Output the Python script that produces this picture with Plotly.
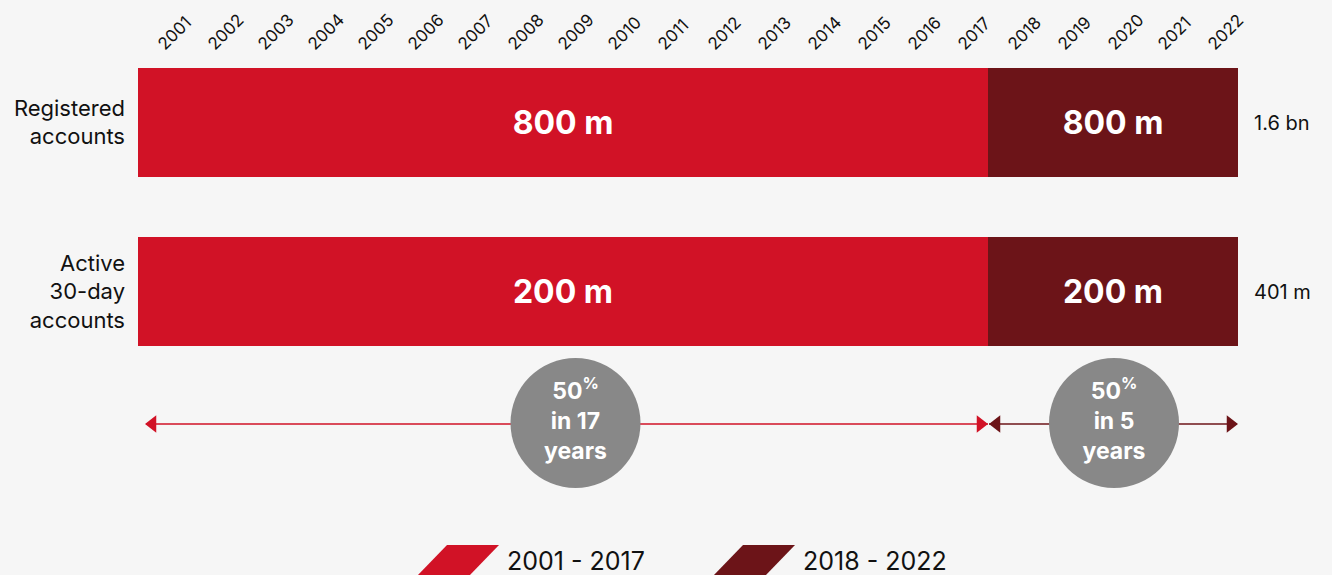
import plotly.graph_objects as go

# data
categories = ["Registered<br>accounts", "Active<br>30-day<br>accounts"]
years = list(range(2001, 2023))
period1 = (2001, 2017)
period2 = (2018, 2022)
first_period_m = [800, 200]      # millions added 2001-2017
second_period_m = [800, 200]     # millions added 2018-2022
totals = ["1.6 bn", "401 m"]
share_labels = ["50<sup>%</sup><br>in 17<br>years", "50<sup>%</sup><br>in 5<br>years"]

RED = "#d11226"
DARK = "#6c1418"
GREY = "#888888"
BG = "#f6f6f6"
FONT = "Inter"

L, R, T, B = 138, 94, 60, 0
W, H = 1332, 575


# pixel -> data / paper helpers for the layout decorations
def px_x(p):
    return 2000.5 + (p - L) / 50


def px_y(p):
    return (p - 122.5) / 169


def paper_x(p):
    return (p - L) / (W - L - R)


rows = list(range(len(categories)))
len1 = period1[1] - period1[0] + 1
len2 = period2[1] - period2[0] + 1

fig = go.Figure()

fig.add_trace(go.Bar(
    y=rows, x=[len1] * len(rows), base=period1[0] - 0.5, orientation="h",
    width=0.645, marker=dict(color=RED, line=dict(width=0)),
    text=[f"{v} m" for v in first_period_m], textposition="inside",
    insidetextanchor="middle",
    textfont=dict(family=FONT, size=32, color="white", weight="bold"),
    hoverinfo="skip", showlegend=False,
))
fig.add_trace(go.Bar(
    y=rows, x=[len2] * len(rows), base=period2[0] - 0.5, orientation="h",
    width=0.645, marker=dict(color=DARK, line=dict(width=0)),
    text=[f"{v} m" for v in second_period_m], textposition="inside",
    insidetextanchor="middle",
    textfont=dict(family=FONT, size=32, color="white", weight="bold"),
    hoverinfo="skip", showlegend=False,
))

# timeline arrows
arrow_y = px_y(424)
fig.add_trace(go.Scatter(
    x=[px_x(146), px_x(988)], y=[arrow_y, arrow_y], mode="lines",
    line=dict(color=RED, width=1.6), hoverinfo="skip", showlegend=False,
))
fig.add_trace(go.Scatter(
    x=[px_x(989), px_x(1237)], y=[arrow_y, arrow_y], mode="lines",
    line=dict(color=DARK, width=1.6), hoverinfo="skip", showlegend=False,
))
fig.add_trace(go.Scatter(
    x=[px_x(152.5), px_x(980.5)], y=[arrow_y, arrow_y], mode="markers",
    marker=dict(symbol=["triangle-left", "triangle-right"], size=15, color=RED,
                line=dict(width=0)),
    cliponaxis=False, hoverinfo="skip", showlegend=False,
))
fig.add_trace(go.Scatter(
    x=[px_x(996.5), px_x(1230.5)], y=[arrow_y, arrow_y], mode="markers",
    marker=dict(symbol=["triangle-left", "triangle-right"], size=15, color=DARK,
                line=dict(width=0)),
    cliponaxis=False, hoverinfo="skip", showlegend=False,
))

# circles
fig.add_trace(go.Scatter(
    x=[px_x(575.5), px_x(1114)], y=[px_y(423), px_y(423)], mode="markers+text",
    marker=dict(size=130, color=GREY, line=dict(width=0)),
    text=share_labels, textposition="middle center",
    textfont=dict(family=FONT, size=23, color="white", weight="bold"),
    cliponaxis=False, hoverinfo="skip", showlegend=False,
))

# totals on the right
for r, t in zip(rows, totals):
    fig.add_annotation(x=paper_x(1252), xref="paper", y=r, yref="y", text=t,
                       showarrow=False, xanchor="left", yanchor="middle",
                       font=dict(family=FONT, size=20, color="#111111"))

# legend: parallelograms + labels
legend_items = [(RED, f"{period1[0]} - {period1[1]}", 417),
                (DARK, f"{period2[0]} - {period2[1]}", 713)]
for color, label, x0 in legend_items:
    path = (f"M {px_x(x0)},{px_y(576)} L {px_x(x0 + 30)},{px_y(545)} "
            f"L {px_x(x0 + 82)},{px_y(545)} L {px_x(x0 + 52)},{px_y(576)} Z")
    fig.add_shape(type="path", path=path, xref="x", yref="y",
                  fillcolor=color, line=dict(width=0), layer="above")
    fig.add_annotation(x=px_x(x0 + 88), y=px_y(561), text=label, showarrow=False,
                       xanchor="left", yanchor="middle",
                       font=dict(family=FONT, size=25, color="#111111"))

fig.update_layout(
    width=W, height=H,
    margin=dict(l=L, r=R, t=T, b=B),
    paper_bgcolor=BG, plot_bgcolor=BG,
    font=dict(family=FONT, color="#111111"),
    bargap=0, barmode="overlay",
    xaxis=dict(range=[2000.5, 2022.5], side="top", tickvals=years,
               ticktext=[str(y) for y in years], tickangle=-45,
               tickfont=dict(family=FONT, size=17, color="#111111"),
               ticklabelshift=-4, ticklabelstandoff=2,
               showgrid=False, zeroline=False, showline=False, ticks=""),
    yaxis=dict(range=[px_y(575), px_y(T)], tickvals=rows, ticktext=categories,
               tickfont=dict(family=FONT, size=22, color="#111111"),
               showgrid=False, zeroline=False, showline=False, ticks="",
               ticklabelstandoff=12),
)

fig.write_html("out.html", config={"displayModeBar": False},
               post_script="document.body.style.margin='0';")
